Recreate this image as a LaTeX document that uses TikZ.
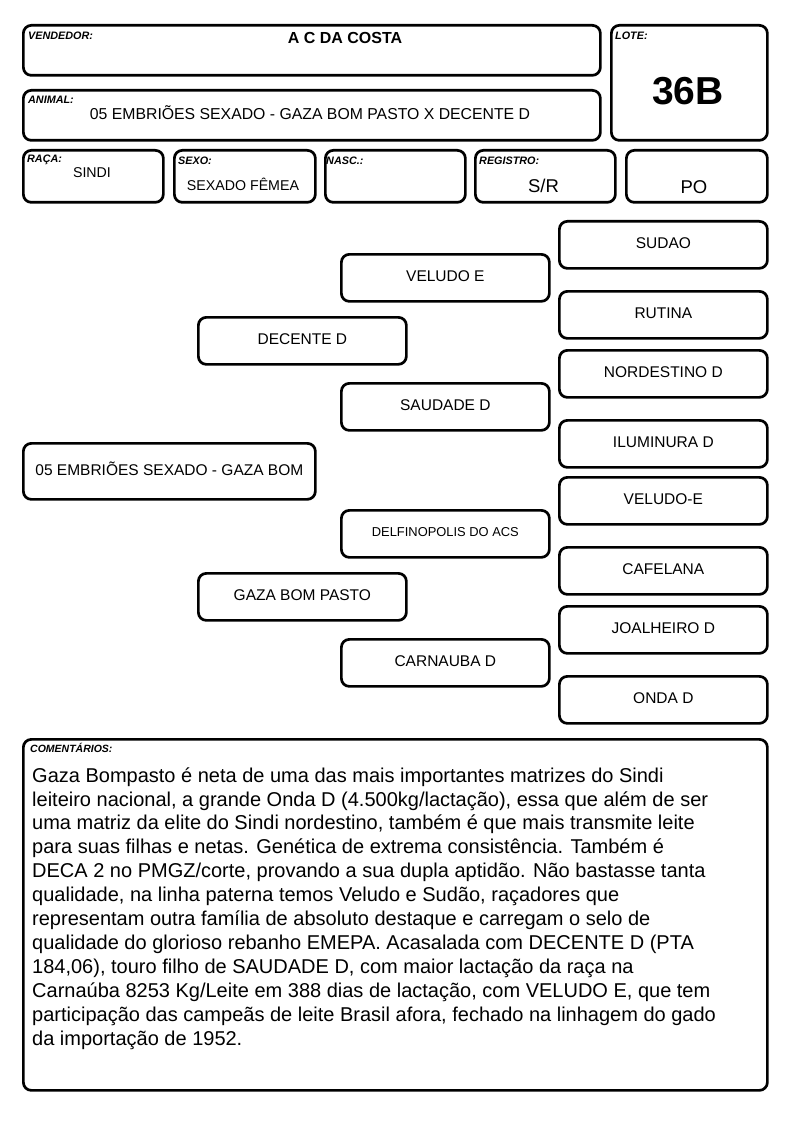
\documentclass[tikz,border=0pt]{standalone}
\usepackage{fontspec}
\setmainfont{Liberation Sans}
\newcommand{\fs}[1]{\fontsize{#1}{#1}\selectfont}
\begin{document}
\begin{tikzpicture}[x=1pt,y=-1pt,
  box/.style={draw=black, line width=2.7pt, rounded corners=8pt, inner sep=0pt, anchor=north west},
  ped/.style={box, minimum width=208pt, minimum height=47pt, font=\fs{15.5}, text height=11pt, text depth=3.5pt},
  lbl/.style={anchor=base west, inner sep=0pt, font=\fs{10.8}\bfseries\itshape},
  val/.style={inner sep=0pt, font=\fs{14.2}}]
\useasboundingbox (0,0) rectangle (794,1123);
\fill[white] (0,0) rectangle (794,1123);
% header boxes
\node[box, minimum width=577pt, minimum height=50pt] (vend) at (22,24) {};
\node[box, minimum width=156pt, minimum height=115pt] (lote) at (610,24) {};
\node[box, minimum width=577pt, minimum height=50pt] (anim) at (22,89) {};
\node[box, minimum width=140pt, minimum height=52pt] (raca) at (22,149) {};
\node[box, minimum width=141pt, minimum height=52pt] (sexo) at (173,149) {};
\node[box, minimum width=140pt, minimum height=52pt] (nasc) at (324,149) {};
\node[box, minimum width=140pt, minimum height=52pt] (regi) at (474,149) {};
\node[box, minimum width=141pt, minimum height=52pt] (po) at (625,149) {};
% header labels
\node[lbl] (lvend) at (28,39.5) {VENDEDOR:};
\node[val, font=\fs{16}\bfseries] (tvend) at (345,38) {A C DA COSTA};
\node[lbl] (llote) at (615,39.5) {LOTE:};
\node[val, font=\fs{39}\bfseries] (tlote) at (688,91) {36B};
\node[lbl] (lanim) at (28,103.5) {ANIMAL:};
\node[val, font=\fs{15.8}] (tanim) at (310,113) {05 EMBRIÕES SEXADO - GAZA BOM PASTO X DECENTE D};
\node[lbl] (lraca) at (27,162.5) {RAÇA:};
\node[val] (traca) at (92,172.5) {SINDI};
\node[lbl] (lsexo) at (178,164.5) {SEXO:};
\node[val] (tsexo) at (243,184) {SEXADO FÊMEA};
\node[lbl] (lnasc) at (326,164.5) {NASC.:};
\node[lbl] (lregi) at (479,164.5) {REGISTRO:};
\node[val, font=\fs{18.5}] (tregi) at (543.5,186) {S/R};
\node[val, font=\fs{18.5}] (tpo) at (694,187) {PO};
% pedigree, column 3
\node[ped] (g1) at (558,220) {SUDAO};
\node[ped] (g2) at (558,290) {RUTINA};
\node[ped] (g3) at (558,349) {NORDESTINO D};
\node[ped] (g4) at (558,419) {ILUMINURA D};
\node[ped] (g5) at (558,476) {VELUDO-E};
\node[ped] (g6) at (558,546) {CAFELANA};
\node[ped] (g7) at (558,605) {JOALHEIRO D};
\node[ped] (g8) at (558,675) {ONDA D};
% column 2
\node[ped] (p1) at (340,253) {VELUDO E};
\node[ped] (p2) at (340,382) {SAUDADE D};
\node[ped, font=\fs{12.9}, text height=9.2pt, text depth=3pt] (p3) at (340,509) {DELFINOPOLIS DO ACS};
\node[ped] (p4) at (340,638) {CARNAUBA D};
% column 1
\node[ped] (s1) at (197,316) {DECENTE D};
\node[ped] (s2) at (197,572) {GAZA BOM PASTO};
% column 0
\node[ped, minimum width=292pt, minimum height=56pt] (a0) at (22,442) {05 EMBRIÕES SEXADO - GAZA BOM};
% comments
\node[box, minimum width=744pt, minimum height=351pt] (com) at (22,738) {};
\node[lbl, font=\fs{10.5}\bfseries\itshape] (lcom) at (30,752) {COMENTÁRIOS:};
\node[anchor=base west, inner sep=0pt, align=left, font=\fontsize{20}{23.9}\selectfont] (tcom) at (32,1045) {Gaza Bompasto é neta de uma das mais importantes matrizes do Sindi\\
leiteiro nacional, a grande Onda D (4.500kg/lactação), essa que além de ser\\
uma matriz da elite do Sindi nordestino, também é que mais transmite leite\\
para suas filhas e netas. Genética de extrema consistência. Também é\\
DECA 2 no PMGZ/corte, provando a sua dupla aptidão. Não bastasse tanta\\
qualidade, na linha paterna temos Veludo e Sudão, raçadores que\\
representam outra família de absoluto destaque e carregam o selo de\\
qualidade do glorioso rebanho EMEPA. Acasalada com DECENTE D (PTA\\
184,06), touro filho de SAUDADE D, com maior lactação da raça na\\
Carnaúba 8253 Kg/Leite em 388 dias de lactação, com VELUDO E, que tem\\
participação das campeãs de leite Brasil afora, fechado na linhagem do gado\\
da importação de 1952.};
\end{tikzpicture}
\end{document}
